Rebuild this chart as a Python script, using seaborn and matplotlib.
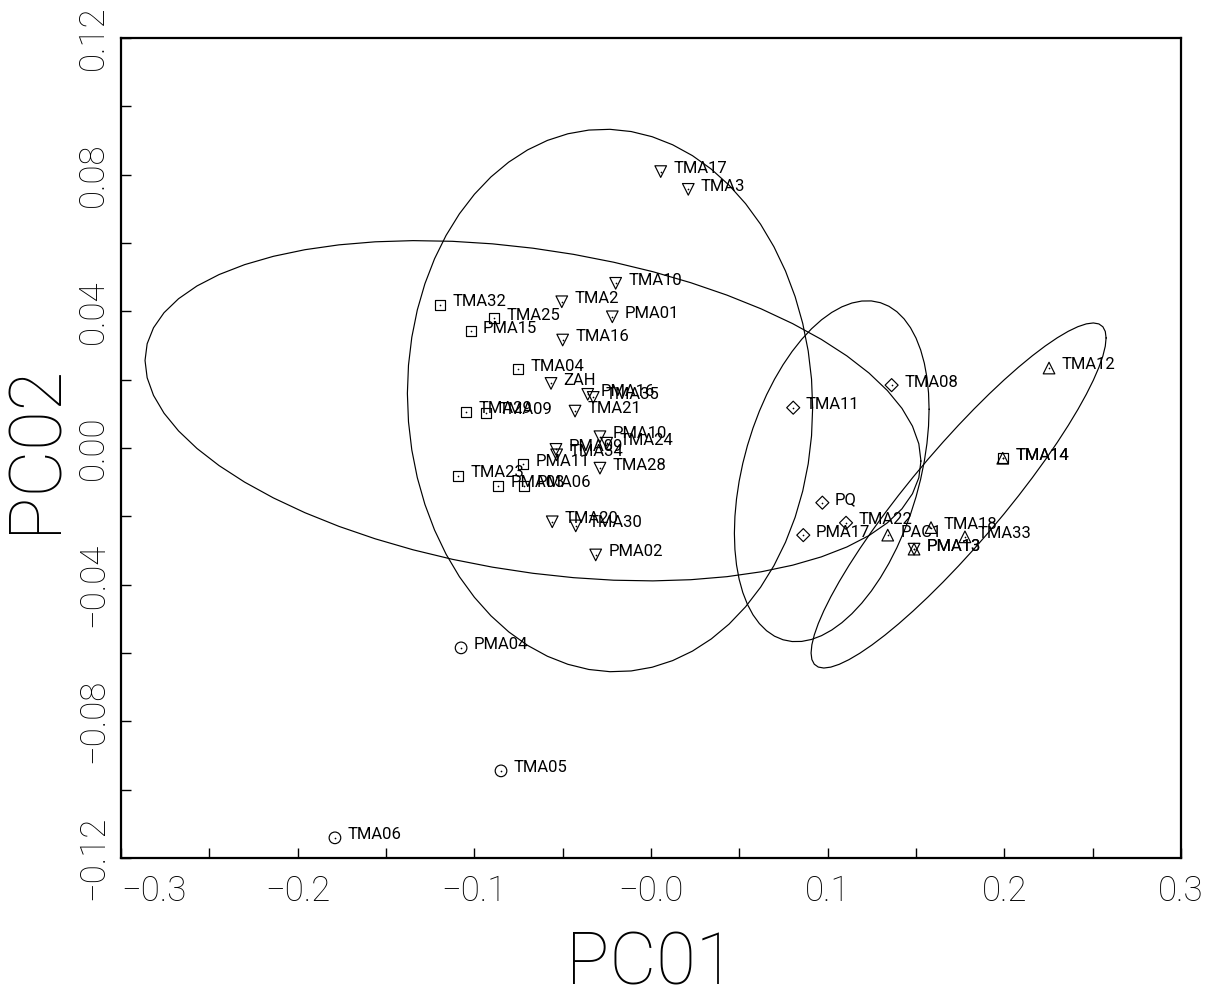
import numpy as np
import pandas as pd
import matplotlib
matplotlib.use("Agg")
import matplotlib.pyplot as plt
import seaborn as sns

# ---------------- data ----------------
# group: squares
sq_labels = ["TMA32", "TMA25", "PMA15", "TMA04", "TMA29", "TMA09", "TMA23",
             "PMA11", "PMA03", "PMA06", "TMA14"]
sq_x = [-0.1194, -0.0889, -0.1021, -0.0755, -0.1049, -0.0936, -0.1094,
        -0.0726, -0.0864, -0.0719, 0.1991]
sq_y = [0.0419, 0.0380, 0.0342, 0.0231, 0.0106, 0.0103, -0.0081,
        -0.0048, -0.0111, -0.0111, -0.0030]

# group: down triangles
dn_labels = ["TMA17", "TMA3", "TMA10", "TMA2", "PMA01", "TMA16", "ZAH",
             "PMA16", "TMA35", "TMA21", "PMA10", "TMA24", "PMA09", "TMA34",
             "TMA28", "TMA20", "TMA30", "PMA02", "PMA13"]
dn_x = [0.0055, 0.0211, -0.0200, -0.0505, -0.0219, -0.0500, -0.0566,
        -0.0358, -0.0327, -0.0430, -0.0289, -0.0251, -0.0538, -0.0534,
        -0.0289, -0.0559, -0.0426, -0.0313, 0.1489]
dn_y = [0.0809, 0.0757, 0.0482, 0.0428, 0.0384, 0.0316, 0.0189,
        0.0157, 0.0148, 0.0108, 0.0033, 0.0014, -0.0004, -0.0020,
        -0.0059, -0.0216, -0.0228, -0.0313, -0.0296]

# group: circles
ci_labels = ["PMA04", "TMA05", "TMA06"]
ci_x = [-0.1075, -0.0849, -0.1789]
ci_y = [-0.0585, -0.0945, -0.1141]

# group: diamonds
di_labels = ["TMA11", "TMA08", "PQ", "TMA22", "PMA17"]
di_x = [0.0805, 0.1362, 0.0970, 0.1104, 0.0862]
di_y = [0.0118, 0.0184, -0.0160, -0.0219, -0.0255]

# group: up triangles
up_labels = ["TMA12", "TMA14", "PAC1", "TMA18", "TMA33", "PMA13"]
up_x = [0.2253, 0.1991, 0.1340, 0.1585, 0.1777, 0.1489]
up_y = [0.0234, -0.0030, -0.0255, -0.0233, -0.0260, -0.0296]

# ellipses: centre, half-extent in x / y, correlation
ell_cx = [-0.0668, -0.0232, 0.1023, 0.1741]
ell_cy = [0.0109, 0.0139, -0.0068, -0.0139]
ell_rx = [0.2196, 0.1147, 0.0551, 0.0835]
ell_ry = [0.0498, 0.0794, 0.0499, 0.0505]
ell_r = [-0.2955, -0.026, 0.364, 0.913]

x_ticks = [-0.3, -0.2, -0.1, 0.0, 0.1, 0.2, 0.3]
x_ticklabels = ["\u22120.3", "\u22120.2", "\u22120.1", "\u22120.0", "0.1", "0.2", "0.3"]
y_ticks = [-0.12, -0.08, -0.04, 0.0, 0.04, 0.08, 0.12]
y_ticklabels = ["\u22120.12", "\u22120.08", "\u22120.04", "0.00", "0.04", "0.08", "0.12"]

groups = [
    ("square", sq_labels, sq_x, sq_y, "s", 52),
    ("down", dn_labels, dn_x, dn_y, "v", 70),
    ("circle", ci_labels, ci_x, ci_y, "o", 70),
    ("diamond", di_labels, di_x, di_y, "D", 44),
    ("up", up_labels, up_x, up_y, "^", 70),
]
frames = []
for g, lab, xs, ys, m, s in groups:
    frames.append(pd.DataFrame({"label": lab, "PC01": xs, "PC02": ys, "group": g}))
df = pd.concat(frames, ignore_index=True)

# ---------------- style ----------------
sns.set_style("white")
plt.rcParams["font.family"] = ["Roboto", "DejaVu Sans"]
plt.rcParams["font.weight"] = "light"
plt.rcParams["text.color"] = "black"
plt.rcParams["xtick.color"] = "black"
plt.rcParams["ytick.color"] = "black"
plt.rcParams["axes.labelcolor"] = "black"
plt.rcParams["axes.unicode_minus"] = True

fig = plt.figure(figsize=(12.08, 9.93), dpi=100)
ax = fig.add_axes([121 / 1208, 1 - 858 / 993, 1060 / 1208, 820 / 993])

# ellipses
t = np.linspace(0, 2 * np.pi, 61)
for cx, cy, rx, ry, r in zip(ell_cx, ell_cy, ell_rx, ell_ry, ell_r):
    ex = cx + rx * np.cos(t)
    ey = cy + ry * (r * np.cos(t) + np.sqrt(1 - r * r) * np.sin(t))
    sns.lineplot(x=ex, y=ey, sort=False, estimator=None, color="black",
                 linewidth=0.85, ax=ax)

# markers
for g, lab, xs, ys, m, s in groups:
    sub = df[df["group"] == g]
    sns.scatterplot(data=sub, x="PC01", y="PC02", marker=m, s=s,
                    facecolors="none", edgecolor="black", linewidth=0.85,
                    ax=ax, zorder=3)
# tiny centre dots
sns.scatterplot(data=df, x="PC01", y="PC02", marker="o", s=1.5,
                color="black", linewidth=0, ax=ax, zorder=4)

# point labels
for _, row in df.iterrows():
    ax.annotate(row["label"], (row["PC01"], row["PC02"]), xytext=(9.0, 2.2),
                textcoords="offset points", ha="left", va="center",
                fontsize=12, fontweight="normal", color="black", zorder=5)

ax.set_xlim(-0.3, 0.3)
ax.set_ylim(-0.12, 0.12)

ax.set_xticks(x_ticks)
ax.set_xticklabels(x_ticklabels)
ax.set_xticks(np.arange(-0.25, 0.3, 0.1), minor=True)
ax.set_yticks(y_ticks)
ax.set_yticklabels(y_ticklabels)
ax.set_yticks(np.arange(-0.10, 0.11, 0.04), minor=True)

ax.tick_params(axis="both", which="both", direction="in", length=7,
               width=1.0, color="black", top=False, right=False,
               bottom=True, left=True)
ax.tick_params(axis="x", which="major", labelsize=25, pad=12)
ax.tick_params(axis="y", which="major", labelsize=25, pad=8, labelrotation=90)
for lbl in ax.get_yticklabels():
    lbl.set_va("center")
ax.get_xticklabels()[0].set_ha("left")

for sp in ax.spines.values():
    sp.set_visible(True)
    sp.set_color("black")
    sp.set_linewidth(1.6)

ax.set_xlabel("PC01", fontsize=52, fontweight="light", color="black")
ax.set_ylabel("PC02", fontsize=52, fontweight="light", color="black")
ax.xaxis.set_label_coords(0.5, -0.088)
ax.yaxis.set_label_coords(-0.048, 0.5)

fig.savefig("out.png", dpi=100, facecolor="white")
